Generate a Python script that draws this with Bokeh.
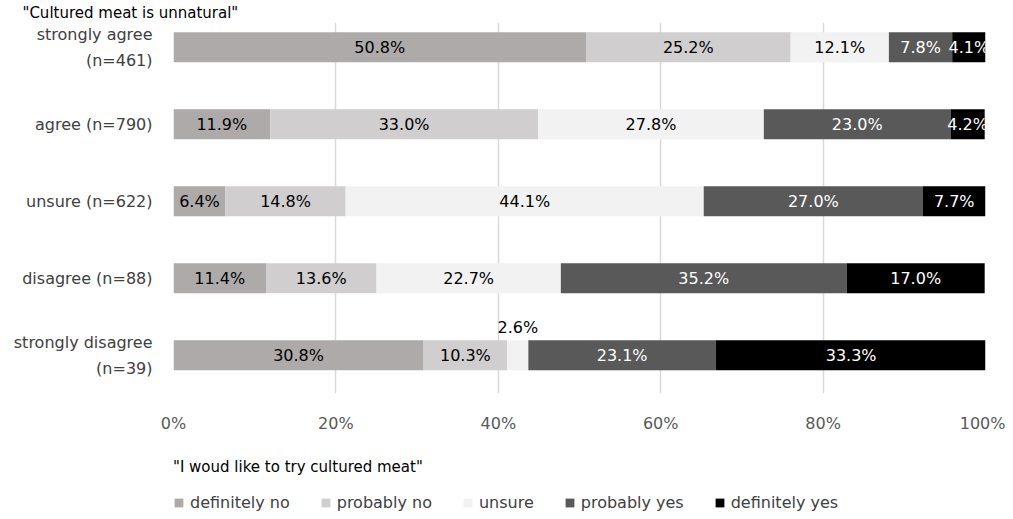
from bokeh.plotting import figure
from bokeh.layouts import column
from bokeh.models import (ColumnDataSource, Range1d, FixedTicker, Legend, LegendItem)
from bokeh.core.properties import value
from bokeh.embed import file_html
from bokeh.resources import INLINE

# ---------------- data ----------------
categories = ["strongly agree\n(n=461)", "agree (n=790)", "unsure (n=622)",
              "disagree (n=88)", "strongly disagree\n(n=39)"]
series = ["definitely no", "probably no", "unsure", "probably yes", "definitely yes"]
definitely_no = [50.8, 11.9, 6.4, 11.4, 30.8]
probably_no = [25.2, 33.0, 14.8, 13.6, 10.3]
unsure = [12.1, 27.8, 44.1, 22.7, 2.6]
probably_yes = [7.8, 23.0, 27.0, 35.2, 23.1]
definitely_yes = [4.1, 4.2, 7.7, 17.0, 33.3]
x_ticks = [0, 20, 40, 60, 80, 100]
x_tick_labels = ["0%", "20%", "40%", "60%", "80%", "100%"]
chart_title = '"Cultured meat is unnatural"'
legend_title = '"I woud like to try cultured meat"'

# ---------------- styles ----------------
colors = ["#AEAAAA", "#D0CECE", "#F2F2F2", "#595959", "#000000"]
text_colors = ["#000000", "#000000", "#000000", "#FFFFFF", "#FFFFFF"]
FONT = "DejaVu Sans"
FS = "16px"

values = [definitely_no, probably_no, unsure, probably_yes, definitely_yes]
keys = ["s%d" % i for i in range(len(series))]
rows = list(range(len(categories)))

data = {"y": rows}
for k, v in zip(keys, values):
    data[k] = v
source = ColumnDataSource(data)

p = figure(width=1005, height=445, output_backend="svg", toolbar_location=None,
           x_range=Range1d(0, 100), y_range=Range1d(4.496, -0.322),
           min_border_left=173, min_border_right=20, min_border_top=22,
           min_border_bottom=52)
p.outline_line_color = None
p.background_fill_color = "white"
p.border_fill_color = "white"

# title
p.title.text = chart_title
p.title.align = "left"
p.title.offset = -151
p.title.standoff = 2
p.title.text_font = FONT
p.title.text_font_size = "15px"
p.title.text_font_style = "normal"
p.title.text_color = "#000000"

p.hbar_stack(keys, y="y", height=0.39, source=source,
             fill_color=colors, line_color=None)

# value labels
tx, ty, tt, tc = [], [], [], []
for r in rows:
    left = 0.0
    for si, v in enumerate(values):
        val = v[r]
        tx.append(left + val / 2.0)
        if val < 3:
            ty.append(r - 0.36)
            tc.append("#000000")
        else:
            ty.append(r)
            tc.append(text_colors[si])
        tt.append("%.1f%%" % val)
        left += val
p.text(x="x", y="y", text="t", text_color="c",
       source=ColumnDataSource(dict(x=tx, y=ty, t=tt, c=tc)),
       text_align="center", text_baseline="middle",
       text_font=value(FONT), text_font_size=FS)

# grid
p.ygrid.visible = False
p.xgrid.ticker = FixedTicker(ticks=x_ticks)
p.xgrid.grid_line_color = "#D9D9D9"
p.xgrid.grid_line_width = 1.5

# x axis
xa = p.xaxis[0]
xa.ticker = FixedTicker(ticks=x_ticks)
xa.major_label_overrides = {t: l for t, l in zip(x_ticks, x_tick_labels)}
xa.axis_line_color = None
xa.major_tick_line_color = None
xa.minor_tick_line_color = None
xa.major_tick_out = 0
xa.major_tick_in = 0
xa.major_label_standoff = 20
xa.major_label_text_font = FONT
xa.major_label_text_font_size = FS
xa.major_label_text_color = "#595959"

# y axis (categories)
ya = p.yaxis[0]
ya.ticker = FixedTicker(ticks=rows)
ya.major_label_overrides = {r: c for r, c in zip(rows, categories)}
ya.axis_line_color = None
ya.major_tick_line_color = None
ya.minor_tick_line_color = None
ya.major_tick_out = 0
ya.major_tick_in = 0
ya.major_label_standoff = 21
ya.major_label_text_font = FONT
ya.major_label_text_font_size = FS
ya.major_label_text_color = "#404040"
ya.major_label_text_line_height = 1.35

# legend in its own strip below the chart (frame aligned with the chart's frame)
lf = figure(width=1005, height=70, output_backend="svg", toolbar_location=None,
            x_range=Range1d(0, 1), y_range=Range1d(0, 1),
            min_border_left=0, min_border_right=0, min_border_top=0, min_border_bottom=0)
lf.axis.visible = False
lf.grid.visible = False
lf.outline_line_color = None
lf.border_fill_color = "white"
offscreen = ColumnDataSource(dict(y=[-10], right=[0]))
items = []
for s, c in zip(series, colors):
    r = lf.hbar(y="y", right="right", height=0.5, source=offscreen,
                fill_color=c, line_color=None)
    items.append(LegendItem(label=s, renderers=[r]))
legend = Legend(items=items, orientation="horizontal", location=(0, 3))
legend.title = legend_title
legend.title_text_font = FONT
legend.title_text_font_size = "15px"
legend.title_text_font_style = "normal"
legend.title_text_color = "#000000"
legend.title_standoff = 17
legend.padding = 0
legend.margin = 0
legend.spacing = 30
legend.glyph_width = 11
legend.glyph_height = 11
legend.label_standoff = 6
legend.label_height = 16
legend.label_text_font = FONT
legend.label_text_font_size = FS
legend.label_text_color = "#404040"
legend.border_line_color = None
legend.background_fill_alpha = 0
lf.add_layout(legend)

layout = column(p, lf, spacing=0)
open("out.html", "w").write(file_html(layout, INLINE))
